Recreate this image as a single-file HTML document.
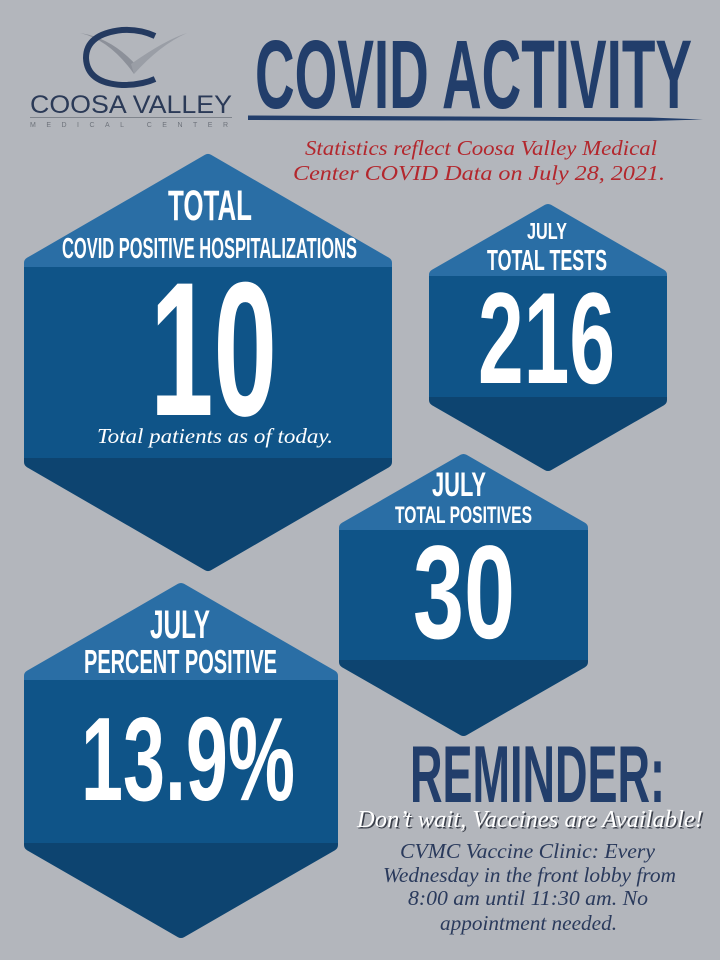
<!DOCTYPE html>
<html><head><meta charset="utf-8"><style>
html,body{margin:0;padding:0;background:#b3b6bc;}
svg{display:block;}
.c{font-family:"Liberation Sans Narrow","Liberation Sans",sans-serif;font-weight:bold;}
.s{font-family:"Liberation Serif",serif;font-style:italic;}
</style></head><body>
<svg width="720" height="960" viewBox="0 0 720 960" xmlns="http://www.w3.org/2000/svg">
<rect width="720" height="960" fill="#b3b6bc"/>
<defs>
<mask id="m1"><polygon points="208,160 386,263 386,462 208,565 30,462 30,263" fill="#fff" stroke="#fff" stroke-width="12" stroke-linejoin="round"/></mask>
<mask id="m2"><polygon points="548,210 661,275 661,400 548,465 435,400 435,275" fill="#fff" stroke="#fff" stroke-width="12" stroke-linejoin="round"/></mask>
<mask id="m3"><polygon points="463.5,460 582,528 582,662 463.5,730 345,662 345,528" fill="#fff" stroke="#fff" stroke-width="12" stroke-linejoin="round"/></mask>
<mask id="m4"><polygon points="181,589 332,676 332,845 181,932 30,845 30,676" fill="#fff" stroke="#fff" stroke-width="12" stroke-linejoin="round"/></mask>
</defs>

<!-- Logo -->
<path d="M80,33 Q110,40 134,74 L137,66 Q112,38 80,33 Z" fill="#8c9099"/>
<path d="M134,74 Q160,45 187,33 Q165,40 131,64 Z" fill="#9a9ea6"/>
<path d="M155,36 Q140,29 122,30 Q86,34 86,58 Q87,83 122,85 Q142,85 155,79" fill="none" stroke="#243a60" stroke-width="6"/>
<text x="30" y="113" font-family="Liberation Sans, sans-serif" font-size="25" fill="#2b3a57" textLength="202" lengthAdjust="spacingAndGlyphs">COOSA VALLEY</text>
<rect x="30" y="117" width="202" height="1" fill="#7f848c"/>
<text x="30" y="127" font-family="Liberation Sans, sans-serif" font-size="7" fill="#6e737b" textLength="198" lengthAdjust="spacing">MEDICAL    CENTER</text>

<!-- Title -->
<text class="c" x="255" y="108" font-size="97" fill="#223e6b" textLength="437" lengthAdjust="spacingAndGlyphs">COVID ACTIVITY</text>
<path d="M248,115.5 L650,117.5 L703,119.5 L650,121 L248,120 Z" fill="#223e6b"/>
<text class="s" x="305" y="155" font-size="21" fill="#b3272d" textLength="352" lengthAdjust="spacingAndGlyphs">Statistics reflect Coosa Valley Medical</text>
<text class="s" x="293" y="180" font-size="21" fill="#b3272d" textLength="372" lengthAdjust="spacingAndGlyphs">Center COVID Data on July 28, 2021.</text>

<!-- Hex 1 -->
<g mask="url(#m1)">
<rect x="0" y="140" width="420" height="127" fill="#2a6ea5"/>
<rect x="0" y="267" width="420" height="191" fill="#0f5488"/>
<rect x="0" y="458" width="420" height="130" fill="#0d4470"/>
</g>
<text class="c" x="168" y="220" font-size="43" fill="#fff" textLength="84" lengthAdjust="spacingAndGlyphs">TOTAL</text>
<text class="c" x="62" y="258" font-size="29" fill="#fff" textLength="295" lengthAdjust="spacingAndGlyphs">COVID POSITIVE HOSPITALIZATIONS</text>
<text class="c" x="150" y="415" font-size="191" fill="#fff" textLength="127" lengthAdjust="spacingAndGlyphs">10</text>
<text class="s" x="97" y="443" font-size="21" fill="#fff" textLength="236" lengthAdjust="spacingAndGlyphs">Total patients as of today.</text>

<!-- Hex 2 -->
<g mask="url(#m2)">
<rect x="400" y="190" width="300" height="86" fill="#2a6ea5"/>
<rect x="400" y="276" width="300" height="121" fill="#0f5488"/>
<rect x="400" y="397" width="300" height="90" fill="#0d4470"/>
</g>
<text class="c" x="527" y="239" font-size="23" fill="#fff" textLength="40" lengthAdjust="spacingAndGlyphs">JULY</text>
<text class="c" x="487" y="270" font-size="29" fill="#fff" textLength="120" lengthAdjust="spacingAndGlyphs">TOTAL TESTS</text>
<text class="c" x="478" y="383" font-size="130" fill="#fff" textLength="137" lengthAdjust="spacingAndGlyphs">216</text>

<!-- Hex 3 -->
<g mask="url(#m3)">
<rect x="320" y="440" width="300" height="90" fill="#2a6ea5"/>
<rect x="320" y="530" width="300" height="130" fill="#0f5488"/>
<rect x="320" y="660" width="300" height="90" fill="#0d4470"/>
</g>
<text class="c" x="432" y="496" font-size="34" fill="#fff" textLength="54" lengthAdjust="spacingAndGlyphs">JULY</text>
<text class="c" x="395" y="523" font-size="24" fill="#fff" textLength="137" lengthAdjust="spacingAndGlyphs">TOTAL POSITIVES</text>
<text class="c" x="413" y="638" font-size="133" fill="#fff" textLength="102" lengthAdjust="spacingAndGlyphs">30</text>

<!-- Hex 4 -->
<g mask="url(#m4)">
<rect x="0" y="570" width="360" height="110" fill="#2a6ea5"/>
<rect x="0" y="680" width="360" height="163" fill="#0f5488"/>
<rect x="0" y="843" width="360" height="110" fill="#0d4470"/>
</g>
<text class="c" x="150" y="638" font-size="40" fill="#fff" textLength="60" lengthAdjust="spacingAndGlyphs">JULY</text>
<text class="c" x="84" y="673" font-size="33" fill="#fff" textLength="193" lengthAdjust="spacingAndGlyphs">PERCENT POSITIVE</text>
<text class="c" x="81" y="800" font-size="119" fill="#fff" textLength="214" lengthAdjust="spacingAndGlyphs">13.9%</text>

<!-- Reminder -->
<text class="c" x="410" y="802" font-size="81" fill="#223e6b" textLength="255" lengthAdjust="spacingAndGlyphs">REMINDER:</text>
<text class="s" x="358.5" y="828.5" font-size="24" fill="#3a3f4a" textLength="346" lengthAdjust="spacingAndGlyphs">Don’t wait, Vaccines are Available!</text>
<text class="s" x="357" y="827" font-size="24" fill="#fff" textLength="346" lengthAdjust="spacingAndGlyphs">Don’t wait, Vaccines are Available!</text>
<text class="s" x="400" y="858" font-size="21" fill="#2a3a5c" textLength="255" lengthAdjust="spacingAndGlyphs">CVMC Vaccine Clinic: Every</text>
<text class="s" x="383" y="882" font-size="21" fill="#2a3a5c" textLength="293" lengthAdjust="spacingAndGlyphs">Wednesday in the front lobby from</text>
<text class="s" x="408" y="905" font-size="21" fill="#2a3a5c" textLength="240" lengthAdjust="spacingAndGlyphs">8:00 am until 11:30 am. No</text>
<text class="s" x="440" y="930" font-size="21" fill="#2a3a5c" textLength="177" lengthAdjust="spacingAndGlyphs">appointment needed.</text>
</svg>
</body></html>
